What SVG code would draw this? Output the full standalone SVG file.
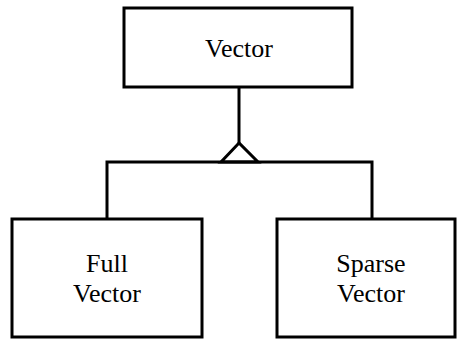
<svg xmlns="http://www.w3.org/2000/svg" width="458" height="341" viewBox="0 0 458 341">
<style>
.box{fill:#fff;stroke:#000;stroke-width:3}
.ln{fill:none;stroke:#000;stroke-width:3}
text{font-family:"Liberation Serif","Times New Roman",serif;font-size:26px;text-anchor:middle;fill:#000}
</style>
<rect width="458" height="341" fill="#fff"/>
<g id="connectors">
<line class="ln" x1="239" y1="87" x2="239" y2="143"/>
<path class="ln" d="M239 143 L221 162 L258 162 Z" stroke-linejoin="miter"/>
<polyline class="ln" points="107,219 107,162 372,162 372,219"/>
</g>
<g id="vector">
<rect class="box" x="124" y="8" width="228" height="79"/>
<text x="239" y="57">Vector</text>
</g>
<g id="full-vector">
<rect class="box" x="12" y="219" width="190" height="118"/>
<text x="107" y="272">Full</text>
<text x="107" y="302">Vector</text>
</g>
<g id="sparse-vector">
<rect class="box" x="277" y="219" width="178" height="118"/>
<text x="371" y="272">Sparse</text>
<text x="371" y="302">Vector</text>
</g>
</svg>
